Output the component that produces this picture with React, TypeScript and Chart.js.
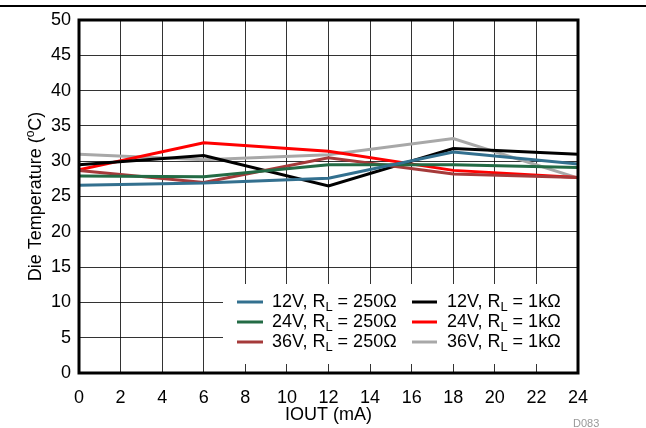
import React, { useEffect, useRef } from "react";
import { Chart, registerables } from "chart.js";

Chart.register(...registerables);

const iout = [0, 6, 12, 18, 24];
const v12r250 = [26.6, 26.9, 27.6, 31.3, 29.6];
const v24r250 = [27.9, 27.8, 29.5, 29.5, 29.1];
const v36r250 = [28.7, 27.0, 30.5, 28.2, 27.7];
const v12r1k = [29.5, 30.8, 26.5, 31.8, 31.0];
const v24r1k = [28.8, 32.6, 31.4, 28.7, 27.7];
const v36r1k = [31.0, 30.2, 30.9, 33.2, 27.6];

const seriesVoltages = ["12V", "24V", "36V", "12V", "24V", "36V"];
const seriesLoads = ["250Ω", "250Ω", "250Ω", "1kΩ", "1kΩ", "1kΩ"];
const seriesValues = [v12r250, v24r250, v36r250, v12r1k, v24r1k, v36r1k];
const seriesColors = ["#33708F", "#236B45", "#A53A3A", "#000000", "#FF0000", "#A8A8A8"];

const xTitle = "IOUT (mA)";
const yTitleMain = "Die Temperature (";
const yTitleSup = "o";
const yTitleEnd = "C)";
const figId = "D083";

const FONT = "'Liberation Sans', Arial, sans-serif";
const FS = 18;

export default function App() {
  const ref = useRef<HTMLCanvasElement | null>(null);

  useEffect(() => {
    document.body.style.margin = "0";
    const canvas = ref.current;
    if (!canvas) return;

    const decor = {
      id: "decor",
      afterDraw(chart: any) {
        const ctx = chart.ctx as CanvasRenderingContext2D;
        const a = chart.chartArea;
        ctx.save();
        // top rule
        ctx.strokeStyle = "#000";
        ctx.lineWidth = 2;
        ctx.beginPath();
        ctx.moveTo(0, 6);
        ctx.lineTo(646, 6);
        ctx.stroke();

        // legend box
        const bx = 223, by = 284, bw = a.right - bx, bh = 364 - by;
        ctx.fillStyle = "#fff";
        ctx.fillRect(bx, by, bw, bh);
        const rows = [302, 322, 342];
        const cols = [
          { l0: 237, l1: 263, t: 272 },
          { l0: 412, l1: 437, t: 447 },
        ];
        for (let i = 0; i < seriesVoltages.length; i++) {
          const c = cols[Math.floor(i / 3)];
          const y = rows[i % 3];
          ctx.strokeStyle = seriesColors[i];
          ctx.lineWidth = 3;
          ctx.beginPath();
          ctx.moveTo(c.l0, y);
          ctx.lineTo(c.l1, y);
          ctx.stroke();
          ctx.fillStyle = "#000";
          ctx.textBaseline = "middle";
          ctx.textAlign = "left";
          let x = c.t;
          ctx.font = `${FS}px ${FONT}`;
          const p1 = `${seriesVoltages[i]}, R`;
          ctx.fillText(p1, x, y);
          x += ctx.measureText(p1).width;
          ctx.font = `13px ${FONT}`;
          ctx.fillText("L", x, y + 5);
          x += ctx.measureText("L").width;
          ctx.font = `${FS}px ${FONT}`;
          ctx.fillText(` = ${seriesLoads[i]}`, x, y);
        }

        // plot border
        ctx.strokeStyle = "#000";
        ctx.lineWidth = 3;
        ctx.strokeRect(a.left, a.top, a.right - a.left, a.bottom - a.top);

        // x title
        ctx.fillStyle = "#000";
        ctx.font = `${FS}px ${FONT}`;
        ctx.textAlign = "center";
        ctx.textBaseline = "middle";
        ctx.fillText(xTitle, (a.left + a.right) / 2, 415);

        // y title (rotated)
        ctx.save();
        ctx.translate(36, (a.top + a.bottom) / 2);
        ctx.rotate(-Math.PI / 2);
        ctx.font = `${FS}px ${FONT}`;
        const w1 = ctx.measureText(yTitleMain).width;
        const w3 = ctx.measureText(yTitleEnd).width;
        ctx.font = `12px ${FONT}`;
        const w2 = ctx.measureText(yTitleSup).width;
        const total = w1 + w2 + w3;
        let tx = -total / 2;
        ctx.textAlign = "left";
        ctx.font = `${FS}px ${FONT}`;
        ctx.fillText(yTitleMain, tx, 0);
        tx += w1;
        ctx.font = `12px ${FONT}`;
        ctx.fillText(yTitleSup, tx, -5);
        tx += w2;
        ctx.font = `${FS}px ${FONT}`;
        ctx.fillText(yTitleEnd, tx, 0);
        ctx.restore();

        // figure id
        ctx.fillStyle = "#999";
        ctx.font = `11px ${FONT}`;
        ctx.textAlign = "left";
        ctx.textBaseline = "middle";
        ctx.fillText(figId, 573, 424);
        ctx.restore();
      },
    };

    const chart = new Chart(canvas, {
      type: "line",
      data: {
        datasets: seriesValues.map((vals, i) => ({
          label: `${seriesVoltages[i]}, RL = ${seriesLoads[i]}`,
          data: vals.map((v, j) => ({ x: iout[j], y: v })),
          borderColor: seriesColors[i],
          backgroundColor: seriesColors[i],
          borderWidth: 3,
          pointRadius: 0,
          tension: 0,
          fill: false,
        })),
      },
      options: {
        responsive: false,
        animation: false,
        layout: { padding: { left: 0, top: 20, right: 68, bottom: 0 } },
        plugins: { legend: { display: false }, tooltip: { enabled: false } },
        scales: {
          x: {
            type: "linear",
            min: 0,
            max: 24,
            afterFit: (s: any) => { s.height = 55; },
            ticks: { stepSize: 2, color: "#000", padding: 14, font: { family: FONT, size: FS } },
            grid: { color: "rgba(0,0,0,0.8)", lineWidth: 1, drawTicks: false },
            border: { display: false },
          },
          y: {
            min: 0,
            max: 50,
            afterFit: (s: any) => { s.width = 79; },
            ticks: { stepSize: 5, color: "#000", padding: 8, font: { family: FONT, size: FS } },
            grid: { color: "rgba(0,0,0,0.8)", lineWidth: 1, drawTicks: false },
            border: { display: false },
          },
        },
      },
      plugins: [decor],
    });
    return () => chart.destroy();
  }, []);

  return (
    <div style={{ width: 646, height: 428, background: "#fff" }}>
      <canvas ref={ref} width={646} height={428} />
    </div>
  );
}
